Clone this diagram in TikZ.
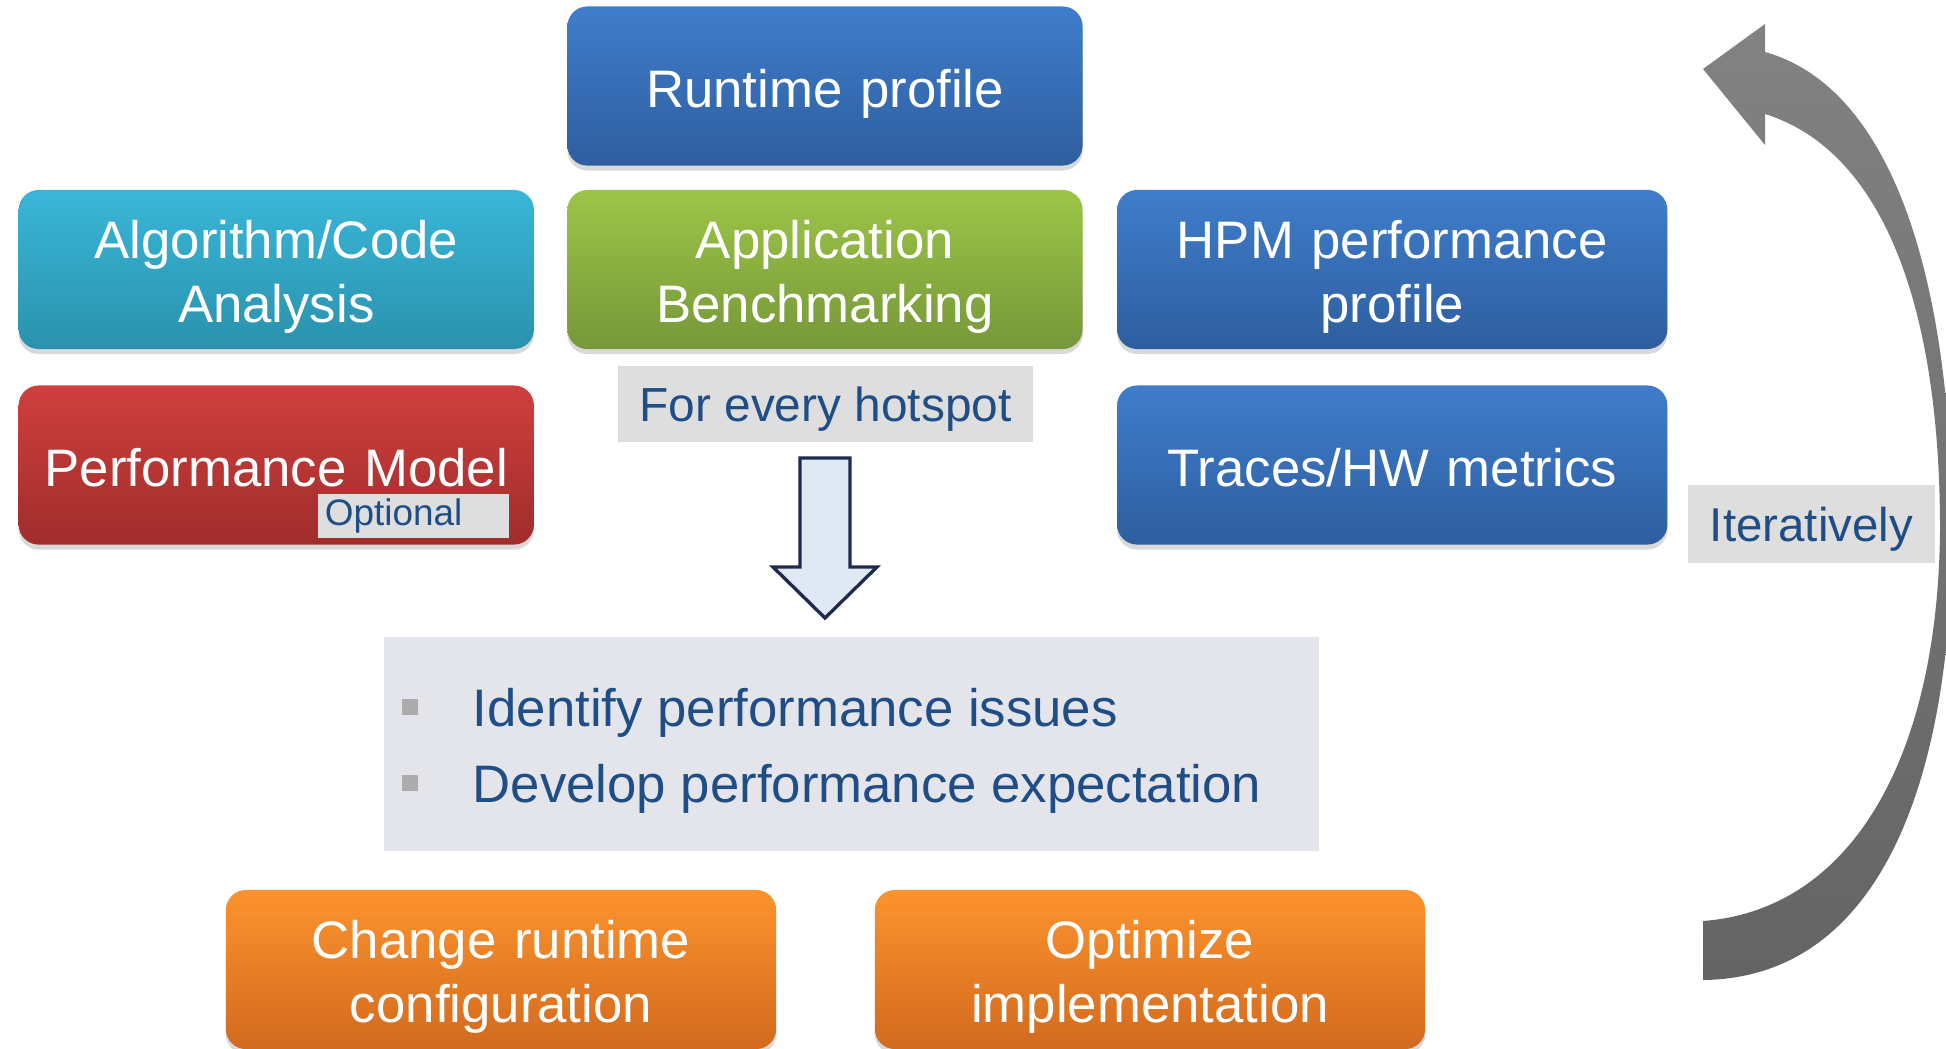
\documentclass[tikz,border=0pt]{standalone}
\usepackage{fontspec}
\setmainfont{Liberation Sans}
\usetikzlibrary{shadows,positioning}
\definecolor{bluetop}{HTML}{3F7DCB}
\definecolor{bluebot}{HTML}{2E5E9F}
\definecolor{tealtop}{HTML}{3AB6D8}
\definecolor{tealbot}{HTML}{2A92AD}
\definecolor{greentop}{HTML}{9CC547}
\definecolor{greenbot}{HTML}{76983A}
\definecolor{redtop}{HTML}{CF3F3D}
\definecolor{redbot}{HTML}{A02D2C}
\definecolor{orangetop}{HTML}{FD932D}
\definecolor{orangebot}{HTML}{D26A1F}
\definecolor{taggray}{HTML}{DEDEDE}
\definecolor{panelgray}{HTML}{E4E5EA}
\definecolor{textblue}{HTML}{1F4E86}
\definecolor{arrowfill}{HTML}{DFE9F4}
\definecolor{arrowline}{HTML}{1F2B4E}
\definecolor{loopgraytop}{HTML}{828282}
\definecolor{loopgraybot}{HTML}{646464}
\tikzset{
	procbox/.style={rounded corners=0.2cm, minimum width=5.15cm, minimum height=1.59cm,
		text width=4.78cm, align=center, text=white, font=\fontsize{15}{18.4}\selectfont,
		text height=12.6pt, text depth=0.6pt,
		drop shadow={opacity=0.3,shadow xshift=0pt,shadow yshift=-0.05cm}},
	tworow/.style={text height=12pt, text depth=18.4pt},
	widebox/.style={procbox, minimum width=5.5cm, text width=5.1cm},
	tagbox/.style={fill=taggray, text=textblue, inner sep=0pt},
	taglabel/.style={tagbox, text height=10.5pt, text depth=0.7pt},
	bulletsq/.style={fill=black!33, minimum size=0.16cm, inner sep=0pt},
	bullettext/.style={text=textblue, font=\fontsize{15}{18}\selectfont, inner sep=0pt},
}

\begin{document}
\begin{tikzpicture}[x=0.01cm,y=-0.01cm]
	\useasboundingbox (0,0) rectangle (1946,1049);
	% measurement boxes
	\node[procbox, top color=bluetop, bottom color=bluebot] (runtime) at (825,86) {Runtime profile};
	\node[procbox, tworow, top color=greentop, bottom color=greenbot, below=0.23cm of runtime] (bench) {Application\\Benchmarking};
	\node[procbox, tworow, top color=tealtop, bottom color=tealbot, left=0.32cm of bench] (algo) {Algorithm/Code\\Analysis};
	\node[widebox, tworow, top color=bluetop, bottom color=bluebot, right=0.33cm of bench] (hpm) {HPM performance\\profile};
	\node[procbox, top color=redtop, bottom color=redbot, below=0.35cm of algo] (model) {Performance Model};
	\node[widebox, top color=bluetop, bottom color=bluebot, below=0.35cm of hpm] (traces) {Traces/HW metrics};
	\node[tagbox, minimum width=1.91cm, minimum height=0.44cm, text width=1.77cm, align=left,
		font=\fontsize{10.5}{12}\selectfont, anchor=south east] (optional)
		at ([xshift=-0.25cm,yshift=0.07cm]model.south east) {Optional};
	% hotspot label and arrow
	\node[taglabel, minimum width=4.15cm, minimum height=0.76cm, font=\fontsize{13.6}{16}\selectfont] (hotspot) at (825.5,404) {For every hotspot};
	\draw[fill=arrowfill, draw=arrowline, line width=0.95pt, line join=miter]
		(800,458) -- (850,458) -- (850,567) -- (877,567) -- (825,618) -- (773,567) -- (800,567) -- cycle;
	% analysis panel
	\node[fill=panelgray, minimum width=9.35cm, minimum height=2.14cm, inner sep=0pt] (panel) at (851.5,744) {};
	\node[bulletsq] (sq1) at (410,707) {};
	\node[bulletsq] (sq2) at (410,783) {};
	\node[bullettext, anchor=base west] (issues) at (472,726) {Identify performance issues};
	\node[bullettext, anchor=base west] (expect) at (472,802) {Develop performance expectation};
	% actions
	\node[widebox, tworow, top color=orangetop, bottom color=orangebot] (change) at (501,969.5) {Change runtime\\configuration};
	\node[widebox, tworow, top color=orangetop, bottom color=orangebot] (optimize) at (1150,969.5) {Optimize\\implementation};
	% loop back
	\path[top color=loopgraytop, bottom color=loopgraybot]
		(1703,980) -- (1703,921)
		.. controls (1850,910) and (1938,760) .. (1940,530)
		.. controls (1940,300) and (1880,150) .. (1765,114)
		-- (1765,145) -- (1703,69) -- (1765,24) -- (1765,52)
		.. controls (1900,90) and (1952,300) .. (1952,530)
		.. controls (1952,780) and (1880,978) .. (1703,980) -- cycle;
	\node[taglabel, minimum width=2.47cm, minimum height=0.78cm, font=\fontsize{13.5}{16}\selectfont] (iter) at (1811.5,524) {Iteratively};
\end{tikzpicture}
\end{document}
